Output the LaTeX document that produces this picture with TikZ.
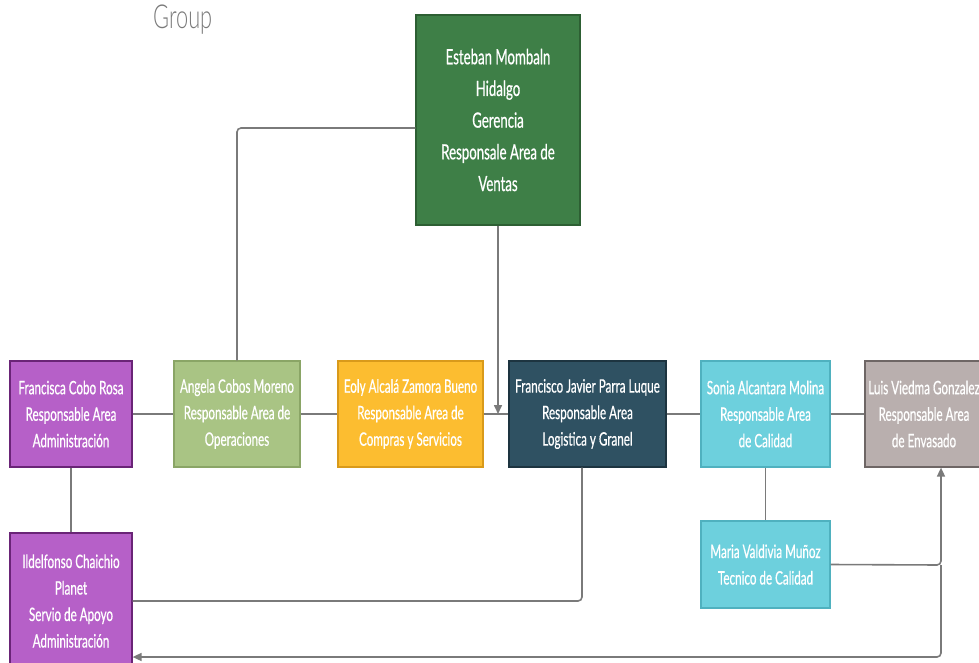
\documentclass[tikz,border=0pt]{standalone}
\usepackage{fontspec}
\usetikzlibrary{arrows.meta}
\newfontfamily\boxfont[FakeStretch=0.63,FakeBold=0.6]{Lato}
\newfontfamily\titlefont[FakeStretch=0.66]{Lato Light}
\definecolor{cgreen}{HTML}{3E7F47}\definecolor{cgreenb}{HTML}{2D5F33}
\definecolor{cpurple}{HTML}{B660C8}\definecolor{cpurpleb}{HTML}{6A2477}
\definecolor{clgreen}{HTML}{A9C484}\definecolor{clgreenb}{HTML}{8AA566}
\definecolor{camber}{HTML}{FCBD30}\definecolor{camberb}{HTML}{D99A1A}
\definecolor{cslate}{HTML}{2F5162}\definecolor{cslateb}{HTML}{1D3440}
\definecolor{ccyan}{HTML}{6DD0DD}\definecolor{ccyanb}{HTML}{4FB1BF}
\definecolor{cgrey}{HTML}{B9AFAE}\definecolor{cgreyb}{HTML}{6E6665}
\definecolor{cline}{HTML}{7A7A7A}
\tikzset{
  box/.style={draw, line width=1.2pt, minimum height=106pt, align=center, text=white,
    font=\boxfont\fontsize{18.5}{26.5}\selectfont, inner sep=0pt},
  conn/.style={draw=cline, line width=1.6pt, rounded corners=4pt},
  arr/.style={conn, -{Triangle[width=8pt,length=9pt]}},
}
\begin{document}
\begin{tikzpicture}[x=1pt,y=-1pt]
\useasboundingbox (0,0) rectangle (979,662);
\node[anchor=west, text=cline, font=\titlefont\fontsize{33}{34}\selectfont, inner sep=0pt] (title) at (153,20) {Group};
\node[box, fill=cgreen, draw=cgreenb, minimum width=164pt, minimum height=210pt,
  font=\boxfont\fontsize{21}{31.7}\selectfont] (top) at (498,120)
  {Esteban Mombaln\\Hidalgo\\Gerencia\\Responsale Area de\\Ventas};
\node[box, fill=cpurple, draw=cpurpleb, minimum width=122pt] (fran) at (71,414)
  {Francisca Cobo Rosa\\Responsable Area\\Administración};
\node[box, fill=clgreen, draw=clgreenb, minimum width=126pt] (ang) at (237,414)
  {Angela Cobos Moreno\\Responsable Area de\\Operaciones};
\node[box, fill=camber, draw=camberb, minimum width=145pt] (eoly) at (410.5,414)
  {Eoly Alcalá Zamora Bueno\\Responsable Area de\\Compras y Servicios};
\node[box, fill=cslate, draw=cslateb, minimum width=157pt] (fjp) at (587.5,414)
  {Francisco Javier Parra Luque\\Responsable Area\\Logistica y Granel};
\node[box, fill=ccyan, draw=ccyanb, minimum width=129pt] (sonia) at (765.5,414)
  {Sonia Alcantara Molina\\Responsable Area\\de Calidad};
\node[box, fill=cgrey, draw=cgreyb, minimum width=118pt] (luis) at (924,414)
  {Luis Viedma Gonzalez\\Responsable Area\\de Envasado};
\node[box, fill=ccyan, draw=ccyanb, minimum width=129pt, minimum height=87pt] (maria) at (765.5,564.5)
  {Maria Valdivia Muñoz\\Tecnico de Calidad};
\node[box, fill=cpurple, draw=cpurpleb, minimum width=122pt, minimum height=136pt] (ild) at (71,601)
  {Ildelfonso Chaichio\\Planet\\Servio de Apoyo\\Administración};
% connectors
\draw[conn] ([yshift=-8pt]top.west) -| (ang.north);
\draw[arr] (top.south) -- (top.south |- fjp.west);
\draw[conn] (fran.east) -- (ang.west);
\draw[conn] (ang.east) -- (eoly.west);
\draw[conn] (eoly.east) -- (fjp.west);
\draw[conn] (fjp.east) -- (sonia.west);
\draw[conn] (sonia.east) -- (luis.west);
\draw[conn] (fran.south) -- (ild.north);
\draw[conn] (sonia.south) -- (maria.north);
\draw[conn] ([xshift=-5.5pt]fjp.south) |- (ild.east);
\coordinate (j) at (941,565);
\coordinate (b) at (941,657);
\draw[arr] (maria.east) -- (j) -- (j |- luis.south);
\draw[arr] (j) -- (b) -- (b -| ild.east);
\end{tikzpicture}
\end{document}
